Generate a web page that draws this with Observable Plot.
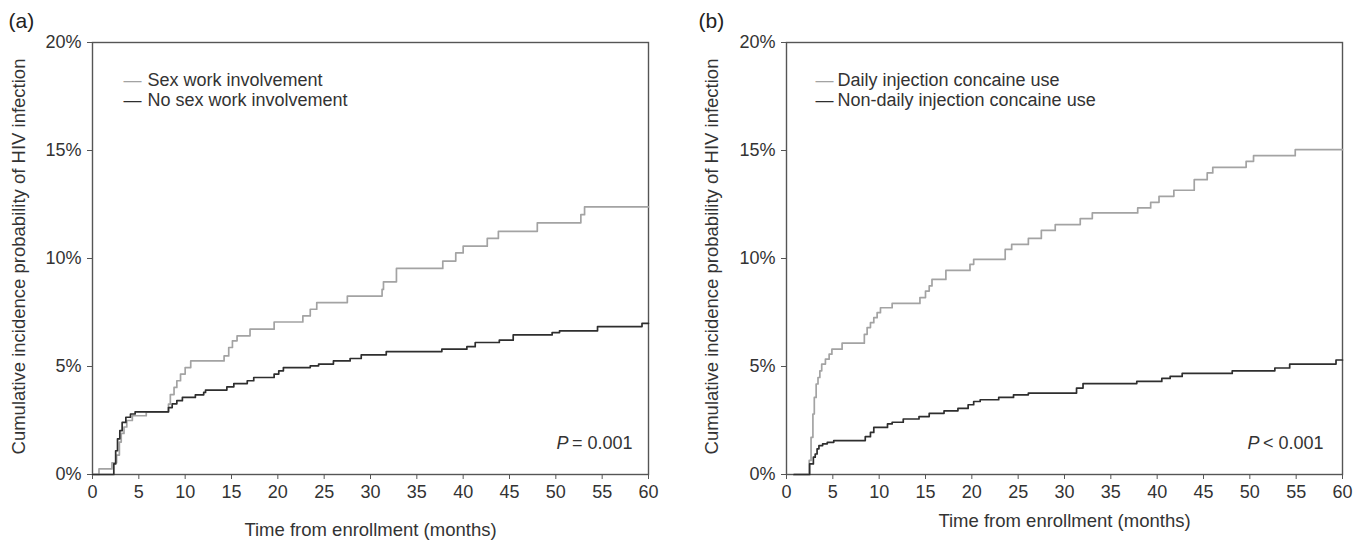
<!DOCTYPE html>
<html><head><meta charset="utf-8">
<script src="https://cdn.jsdelivr.net/npm/d3@7"></script>
<script src="https://cdn.jsdelivr.net/npm/@observablehq/plot@0.6"></script>
<style>
body{margin:0;background:#fff;}
#wrap{display:flex;width:1371px;height:549px;overflow:hidden;}
</style></head><body><div id="wrap"></div>
<script>
// ---------- data (months, cumulative incidence %) ----------
const xTicks = [0,5,10,15,20,25,30,35,40,45,50,55,60];
const yTicks = [0,5,10,15,20];
const xTitle = "Time from enrollment (months)";
const yTitle = "Cumulative incidence probability of HIV infection";

// Panel (a)
const sexWorkLabel = "Sex work involvement";
const sexWorkMonths = [0,0.7,2.1,2.6,2.9,3.1,3.4,3.7,4.3,5.8,8.2,8.4,8.8,9.1,9.5,10.0,10.6,14.2,14.7,15.1,15.6,17.0,19.6,22.7,23.5,24.2,27.5,31.25,31.4,32.8,37.8,39.2,40.0,42.6,43.8,48.0,52.7,53.1,60];
const sexWorkPct    = [0,0.26,0.54,0.9,1.5,1.9,2.2,2.5,2.72,2.9,3.26,3.7,4.03,4.34,4.65,4.95,5.26,5.49,5.88,6.19,6.42,6.73,7.06,7.34,7.65,7.96,8.26,8.57,8.92,9.54,9.88,10.26,10.57,10.93,11.26,11.65,12.03,12.39,12.39];
const noSexWorkLabel = "No sex work involvement";
const noSexWorkMonths = [0,2.3,2.5,2.7,2.95,3.2,3.6,4.1,4.6,8.2,8.6,9.1,9.7,11.1,12.0,12.2,14.5,15.25,16.7,17.4,19.6,20.1,20.6,23.5,24.4,26.0,27.8,29.0,31.7,37.7,40.4,41.3,43.9,45.4,49.6,50.4,54.5,59.3,60];
const noSexWorkPct    = [0,0.49,1.1,1.65,2.03,2.41,2.65,2.8,2.9,3.1,3.27,3.42,3.57,3.69,3.8,3.91,4.06,4.21,4.34,4.49,4.65,4.8,4.95,5.03,5.11,5.26,5.37,5.54,5.69,5.8,5.92,6.11,6.22,6.46,6.57,6.65,6.85,7.0,7.0];
const pValueA = "= 0.001";

// Panel (b)
const dailyLabel = "Daily injection concaine use";
const dailyMonths = [0.8,2.45,2.65,2.85,3.0,3.2,3.4,3.6,3.8,4.2,4.6,4.9,6.0,8.4,8.7,9.06,9.42,9.78,10.14,11.4,14.4,15.0,15.4,15.7,17.2,19.8,20.2,23.6,24.3,26.1,27.5,29.0,31.7,33.0,37.9,39.3,40.2,41.8,44.0,45.4,46.0,49.6,50.4,54.9,60];
const dailyPct    = [0,0.65,1.72,2.8,3.57,4.19,4.49,4.8,5.11,5.34,5.57,5.8,6.08,6.49,6.8,7.03,7.26,7.49,7.72,7.92,8.19,8.49,8.73,9.03,9.45,9.73,9.96,10.42,10.65,10.93,11.3,11.57,11.85,12.11,12.34,12.6,12.88,13.16,13.65,13.96,14.22,14.5,14.76,15.04,15.04];
const nonDailyLabel = "Non-daily injection concaine use";
const nonDailyMonths = [0.8,2.5,2.9,3.1,3.3,3.5,3.9,4.4,5.1,8.5,9.06,9.42,10.9,11.4,12.6,14.3,15.4,17.0,18.5,19.6,20.2,20.9,22.9,24.5,26.1,31.3,32.0,37.8,40.5,41.4,42.7,48.1,52.7,54.3,59.3,60];
const nonDailyPct    = [0,0.49,0.8,0.95,1.19,1.34,1.42,1.49,1.57,1.75,1.95,2.18,2.34,2.42,2.57,2.68,2.83,2.95,3.06,3.23,3.38,3.46,3.57,3.69,3.77,4.0,4.21,4.31,4.45,4.54,4.68,4.8,4.93,5.11,5.3,5.3];
const pValueB = "< 0.001";

const greyColor = "#a3a3a3";
const darkColor = "#2e2e2e";

function rows(label, months, pct) {
  return months.map((m, i) => ({month: m, pct: pct[i], group: label}));
}

function panel(o) {
  const data = [...rows(o.lab1, o.m1, o.p1), ...rows(o.lab2, o.m2, o.p2)];
  const font = "'Liberation Sans', Arial, Helvetica, sans-serif";
  return Plot.plot({
    width: o.width, height: 549,
    marginLeft: o.ml, marginRight: o.mr, marginTop: 42, marginBottom: 75,
    style: {fontFamily: font, fontSize: "18px", color: "#333", background: "white", overflow: "visible"},
    x: {domain: [0, 60]},
    y: {domain: [0, 20]},
    color: {domain: [o.lab1, o.lab2], range: [greyColor, darkColor]},
    marks: [
      Plot.axisX({ticks: xTicks, tickSize: 5, tickPadding: 6, label: null, fontSize: 18, stroke: "#555"}),
      Plot.axisY({ticks: yTicks, tickFormat: d => d + "%", tickSize: 5, tickPadding: 6, label: null, fontSize: 18, stroke: "#555"}),
      Plot.frame({stroke: "#555", strokeWidth: 1.4}),
      Plot.line(data, {x: "month", y: "pct", z: "group", stroke: "group", curve: "step-after", strokeWidth: 1.7}),
      Plot.text([xTitle], {text: d => d, frameAnchor: "bottom", textAnchor: "middle", lineAnchor: "middle", dy: o.xTitleDy, fontSize: 18.5, fill: "#333"}),
      Plot.text([yTitle], {text: d => d, frameAnchor: "left", textAnchor: "middle", lineAnchor: "middle", rotate: -90, dx: o.yTitleDx, dy: -2, fontSize: 18.5, fill: "#333"}),
      Plot.text([o.tag], {text: d => d, frameAnchor: "top-left", textAnchor: "start", lineAnchor: "middle", dx: o.tagDx, dy: -21, fontSize: 21, fill: "#222"}),
      Plot.text(["\u2014"], {text: d => d, frameAnchor: "top-left", textAnchor: "start", lineAnchor: "middle", dx: o.legDash, dy: 38, fontSize: 18, fill: greyColor}),
      Plot.text(["\u2014"], {text: d => d, frameAnchor: "top-left", textAnchor: "start", lineAnchor: "middle", dx: o.legDash, dy: 58, fontSize: 18, fill: darkColor}),
      Plot.text([o.lab1], {text: d => d, frameAnchor: "top-left", textAnchor: "start", lineAnchor: "middle", dx: o.legText, dy: 38, fontSize: 18, fill: "#333"}),
      Plot.text([o.lab2], {text: d => d, frameAnchor: "top-left", textAnchor: "start", lineAnchor: "middle", dx: o.legText, dy: 58, fontSize: 18, fill: "#333"}),
      Plot.text([o.pval], {text: d => d, frameAnchor: "bottom-right", textAnchor: "end", lineAnchor: "middle", dx: o.pDx, dy: -31, fontSize: 18, fill: "#333"}),
      Plot.text(["P"], {text: d => d, frameAnchor: "bottom-right", textAnchor: "end", lineAnchor: "middle", dx: o.pDx - 64, dy: -31, fontSize: 18, fontStyle: "italic", fill: "#333"})
    ]
  });
}

const wrap = document.getElementById("wrap");
wrap.appendChild(panel({
  width: 685, ml: 92, mr: 37, tag: "(a)", tagDx: -84,
  lab1: sexWorkLabel, m1: sexWorkMonths, p1: sexWorkPct,
  lab2: noSexWorkLabel, m2: noSexWorkMonths, p2: noSexWorkPct,
  pval: pValueA, pDx: -16, legDash: 31, legText: 55, xTitleDy: 56, yTitleDx: -73
}));
wrap.appendChild(panel({
  width: 686, ml: 101, mr: 29, tag: "(b)", tagDx: -88,
  lab1: dailyLabel, m1: dailyMonths, p1: dailyPct,
  lab2: nonDailyLabel, m2: nonDailyMonths, p2: nonDailyPct,
  pval: pValueB, pDx: -19, legDash: 29, legText: 51, xTitleDy: 47, yTitleDx: -74
}));
</script>
</body></html>
